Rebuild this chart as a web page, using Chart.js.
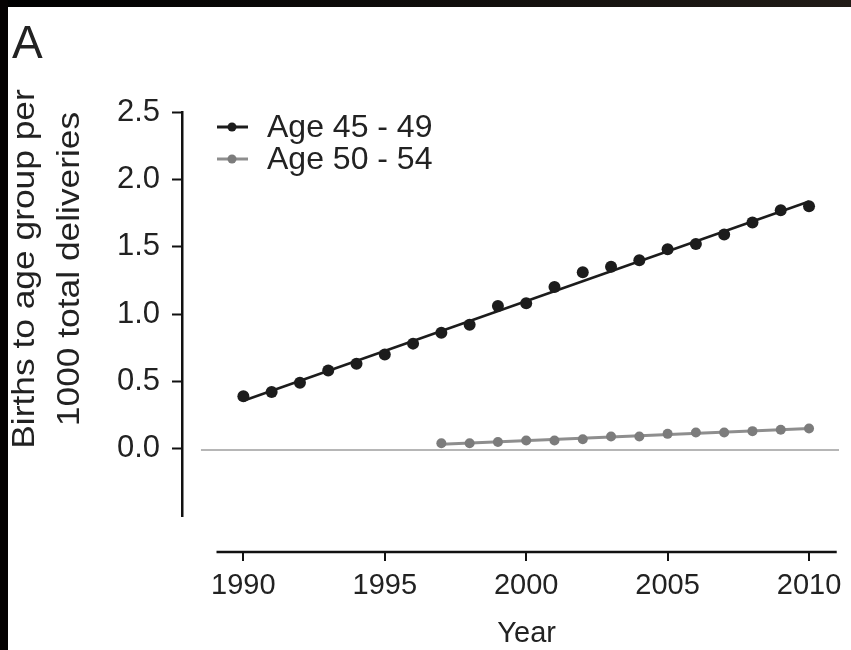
<!DOCTYPE html>
<html>
<head>
<meta charset="utf-8">
<script src="https://cdn.jsdelivr.net/npm/chart.js@4.4.1/dist/chart.umd.min.js"></script>
<style>
  html, body { margin: 0; padding: 0; background: #ffffff; }
  #box { position: absolute; left: 0; top: 0; width: 851px; height: 650px; }
</style>
</head>
<body>
<div id="box"><canvas id="c" width="851" height="650"></canvas></div>
<script>
// Births to women aged 45-49 and 50-54 per 1000 total deliveries, by year
const years4549 = [1990, 1991, 1992, 1993, 1994, 1995, 1996, 1997, 1998, 1999, 2000,
                   2001, 2002, 2003, 2004, 2005, 2006, 2007, 2008, 2009, 2010];
const births4549 = [0.39, 0.42, 0.49, 0.58, 0.63, 0.70, 0.78, 0.86, 0.92, 1.06, 1.08,
                    1.20, 1.31, 1.35, 1.40, 1.48, 1.52, 1.59, 1.68, 1.77, 1.80];
const years5054 = [1997, 1998, 1999, 2000, 2001, 2002, 2003, 2004, 2005, 2006, 2007,
                   2008, 2009, 2010];
const births5054 = [0.04, 0.04, 0.05, 0.06, 0.06, 0.07, 0.09, 0.09, 0.11, 0.12, 0.12,
                    0.13, 0.14, 0.15];
const seriesNames = ['Age 45 - 49', 'Age 50 - 54'];
const xTickYears = [1990, 1995, 2000, 2005, 2010];
const yTickValues = [0.0, 0.5, 1.0, 1.5, 2.0, 2.5];
const yTitleLines = ['Births to age group per', '1000 total deliveries'];
const xTitle = 'Year';
const panelLabel = 'A';

const FONT = "'Liberation Sans', Arial, Helvetica, sans-serif";
const DARK = '#1c1c1c';
const GREY = '#7c7c7c';
const GREY_LINE = '#8e8e8e';
const TEXT = '#222222';

// least-squares trend line through a series, returned as its two end points
function trend(xs, ys) {
  const n = xs.length;
  let sx = 0, sy = 0, sxx = 0, sxy = 0;
  for (let i = 0; i < n; i++) { sx += xs[i]; sy += ys[i]; sxx += xs[i] * xs[i]; sxy += xs[i] * ys[i]; }
  const b = (n * sxy - sx * sy) / (n * sxx - sx * sx);
  const a = (sy - b * sx) / n;
  return [xs[0], xs[n - 1]].map(x => ({ x: x, y: a + b * x }));
}
const pts = (xs, ys) => xs.map((x, i) => ({ x: x, y: ys[i] }));

// page frame: dark strips along the top and left edges
const framePlugin = {
  id: 'frame',
  beforeDraw(chart) {
    const ctx = chart.ctx;
    ctx.save();
    ctx.fillStyle = '#ffffff';
    ctx.fillRect(0, 0, chart.width, chart.height);
    const g = ctx.createLinearGradient(0, 0, chart.width, 0);
    g.addColorStop(0, '#000000');
    g.addColorStop(0.5, '#0f0d0b');
    g.addColorStop(1, '#211c17');
    ctx.fillStyle = g;
    ctx.fillRect(0, 0, chart.width, 7);
    ctx.fillStyle = '#050202';
    ctx.fillRect(0, 0, 8, chart.height);
    ctx.restore();
  }
};

// zero reference line, detached x axis, titles and legend
const decorPlugin = {
  id: 'decor',
  beforeDatasetsDraw(chart) {
    const { ctx, scales: { x, y } } = chart;
    ctx.save();
    ctx.strokeStyle = '#b6b6b6';
    ctx.lineWidth = 2;
    ctx.beginPath();
    const y0 = Math.round(y.getPixelForValue(0)) + 1;
    ctx.moveTo(x.getPixelForValue(1988.5), y0);
    ctx.lineTo(x.right, y0);
    ctx.stroke();
    ctx.restore();
  },
  afterDraw(chart) {
    const { ctx, scales: { x, y }, chartArea } = chart;
    ctx.save();
    // x axis line, set below the plot
    const ay = chartArea.bottom + 36;
    ctx.strokeStyle = '#111111';
    ctx.lineWidth = 2.5;
    ctx.beginPath();
    ctx.moveTo(x.getPixelForValue(1989.05), ay);
    ctx.lineTo(x.getPixelForValue(2010.98), ay);
    ctx.stroke();
    ctx.lineWidth = 2;
    xTickYears.forEach(v => {
      const px = Math.round(x.getPixelForValue(v));
      ctx.beginPath();
      ctx.moveTo(px, ay);
      ctx.lineTo(px, ay + 9);
      ctx.stroke();
    });

    ctx.fillStyle = TEXT;
    // x title, centred on the axis line
    ctx.font = '29px ' + FONT;
    ctx.textAlign = 'center';
    ctx.textBaseline = 'alphabetic';
    const xc = (x.getPixelForValue(1989.05) + x.getPixelForValue(2010.98)) / 2;
    ctx.fillText(xTitle, xc, 642);

    // y title, two rotated lines
    ctx.save();
    ctx.translate(0, 269);
    ctx.rotate(-Math.PI / 2);
    ctx.scale(1.14, 1);
    ctx.font = '31px ' + FONT;
    ctx.textAlign = 'center';
    ctx.fillText(yTitleLines[0], 0, 34);
    ctx.fillText(yTitleLines[1], 0, 79);
    ctx.restore();

    // panel letter
    ctx.font = '300 46px ' + FONT;
    ctx.textAlign = 'left';
    ctx.fillText(panelLabel, 12, 58);

    // legend
    const items = [
      { label: seriesNames[0], color: DARK, line: DARK },
      { label: seriesNames[1], color: GREY, line: GREY_LINE }
    ];
    items.forEach((it, i) => {
      const ly = 127 + i * 32;
      ctx.strokeStyle = it.line;
      ctx.lineWidth = 3;
      ctx.beginPath();
      ctx.moveTo(217, ly);
      ctx.lineTo(248, ly);
      ctx.stroke();
      ctx.fillStyle = it.color;
      ctx.beginPath();
      ctx.arc(232, ly, 4.5, 0, Math.PI * 2);
      ctx.fill();
      ctx.fillStyle = TEXT;
      ctx.font = '32px ' + FONT;
      ctx.textBaseline = 'middle';
      ctx.fillText(it.label, 267, ly + 1);
    });
    ctx.restore();
  }
};

new Chart(document.getElementById('c'), {
  type: 'scatter',
  data: {
    datasets: [
      { label: seriesNames[0], data: pts(years4549, births4549), showLine: false,
        pointRadius: 6, pointBackgroundColor: DARK, pointBorderColor: DARK, pointBorderWidth: 0 },
      { label: seriesNames[0] + ' trend', data: trend(years4549, births4549), showLine: true,
        borderColor: DARK, borderWidth: 2.5, pointRadius: 0 },
      { label: seriesNames[1], data: pts(years5054, births5054), showLine: false,
        pointRadius: 5, pointBackgroundColor: GREY, pointBorderColor: GREY, pointBorderWidth: 0 },
      { label: seriesNames[1] + ' trend', data: trend(years5054, births5054), showLine: true,
        borderColor: GREY_LINE, borderWidth: 3, pointRadius: 0 }
    ]
  },
  options: {
    responsive: false,
    animation: false,
    events: [],
    layout: { padding: { top: 112, right: 12, bottom: 0, left: 0 } },
    plugins: { legend: { display: false }, tooltip: { enabled: false } },
    scales: {
      x: {
        type: 'linear',
        min: 1987.83,
        max: 2011.06,
        afterFit(s) { s.height = 134; s.paddingLeft = 0; s.paddingRight = 0; },
        afterBuildTicks(s) { s.ticks = xTickYears.map(v => ({ value: v })); },
        border: { display: false },
        grid: { display: false, drawTicks: false },
        ticks: { padding: 53, color: TEXT, font: { family: FONT, size: 29 },
                 maxRotation: 0, autoSkip: false, callback: v => String(v) }
      },
      y: {
        min: -0.5,
        max: 2.5,
        afterFit(s) { s.width = 182; s.paddingTop = 0; s.paddingBottom = 0; },
        afterBuildTicks(s) { s.ticks = [-0.5].concat(yTickValues).map(v => ({ value: v })); },
        border: { display: true, color: '#111111', width: 2.5 },
        grid: { display: true, drawOnChartArea: false, drawTicks: true, tickLength: 10, tickWidth: 2,
                tickColor: c => (c.tick && c.tick.value < 0) ? 'rgba(0,0,0,0)' : '#111111' },
        ticks: { padding: 12, color: TEXT, font: { family: FONT, size: 31 },
                 callback: v => v < 0 ? '' : v.toFixed(1) }
      }
    }
  },
  plugins: [framePlugin, decorPlugin]
});
</script>
</body>
</html>
